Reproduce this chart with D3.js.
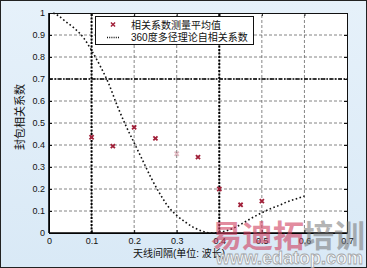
<!DOCTYPE html>
<html>
<head>
<meta charset="utf-8">
<script src="https://cdnjs.cloudflare.com/ajax/libs/d3/7.8.5/d3.min.js"></script>
<style>
  body { margin: 0; padding: 0; background: #fff; }
  svg { display: block; }
  text { font-family: Arial, "Liberation Sans", "Noto Sans CJK SC", sans-serif; }
</style>
</head>
<body>
<div id="chart"></div>
<script>
// Data
var xTicks = [0, 0.1, 0.2, 0.3, 0.4, 0.5, 0.6, 0.7];
var yTicks = [0, 0.1, 0.2, 0.3, 0.4, 0.5, 0.6, 0.7, 0.8, 0.9, 1];

// measured mean correlation (red crosses)
var measSpacing = [0.1, 0.15, 0.2, 0.25, 0.3, 0.35, 0.4, 0.45, 0.5];
var measValue   = [0.435, 0.395, 0.48, 0.43, 0.36, 0.345, 0.2, 0.128, 0.145];

// 360 degree multipath theory curve (dotted)
var theorySpacing = [0.01, 0.02, 0.04, 0.06, 0.08, 0.10, 0.12, 0.14, 0.16, 0.18,
                     0.20, 0.22, 0.24, 0.26, 0.28, 0.30, 0.32, 0.34, 0.36, 0.38,
                     0.40, 0.42, 0.44, 0.46, 0.48, 0.50, 0.52, 0.54, 0.56, 0.58, 0.60];
var theoryValue   = [1.0, 0.99, 0.96, 0.93, 0.89, 0.83, 0.76, 0.68, 0.58, 0.49,
                     0.41, 0.33, 0.25, 0.18, 0.12, 0.08, 0.05, 0.025, 0.008, 0.0,
                     0.003, 0.012, 0.028, 0.05, 0.072, 0.092, 0.11, 0.125, 0.142, 0.155, 0.168];

var refX = [0.1, 0.4];   // thick dotted verticals
var refY = [0.7];        // dash-dot horizontal

var legendLabels = ['相关系数测量平均值', '360度多径理论自相关系数'];
var xTitle = '天线间隔(单位: 波长)';
var yTitle = '封包相关系数';

var width = 367,
    height = 268;

var svg = d3.select('#chart')
  .append('svg')
    .attr('width', width)
    .attr('height', height);

// background panel
var bg = svg.append('defs').append('linearGradient')
    .attr('id', 'bg').attr('x1', 0).attr('y1', 0).attr('x2', 0).attr('y2', 1);
bg.append('stop').attr('offset', '0%').attr('stop-color', '#e6f1fa');
bg.append('stop').attr('offset', '100%').attr('stop-color', '#d9e9f6');

svg.append('rect')
  .attr('x', 0.5).attr('y', 0.5)
  .attr('width', width - 1).attr('height', height - 1)
  .attr('fill', 'url(#bg)')
  .attr('stroke', '#222');

var x = d3.scaleLinear().domain([0, 0.7]).range([49, 347]);
var y = d3.scaleLinear().domain([0, 1]).range([233, 13]);

// plot area
svg.append('rect')
  .attr('x', x(0)).attr('y', y(1))
  .attr('width', x(0.7) - x(0)).attr('height', y(0) - y(1))
  .attr('fill', '#fff');

// grid
svg.append('g').selectAll('line')
    .data(xTicks.slice(1, -1))
  .enter().append('line')
    .attr('x1', function(d) { return x(d); })
    .attr('x2', function(d) { return x(d); })
    .attr('y1', y(0)).attr('y2', y(1))
    .attr('stroke', '#666').attr('stroke-width', 0.8)
    .attr('stroke-dasharray', '3,2');

svg.append('g').selectAll('line')
    .data(yTicks.slice(1, -1))
  .enter().append('line')
    .attr('x1', x(0)).attr('x2', x(0.7))
    .attr('y1', function(d) { return y(d); })
    .attr('y2', function(d) { return y(d); })
    .attr('stroke', '#666').attr('stroke-width', 0.8)
    .attr('stroke-dasharray', '3,2');

// reference lines
svg.append('g').selectAll('line')
    .data(refX)
  .enter().append('line')
    .attr('x1', function(d) { return x(d); })
    .attr('x2', function(d) { return x(d); })
    .attr('y1', y(0)).attr('y2', y(1))
    .attr('stroke', '#000').attr('stroke-width', 2)
    .attr('stroke-dasharray', '2,1.5');

svg.append('g').selectAll('line')
    .data(refY)
  .enter().append('line')
    .attr('x1', x(0)).attr('x2', x(0.7))
    .attr('y1', function(d) { return y(d); })
    .attr('y2', function(d) { return y(d); })
    .attr('stroke', '#000').attr('stroke-width', 1.6)
    .attr('stroke-dasharray', '4,1.5,1.5,1.5');

// axes with inward ticks
function styleAxis(g) {
  g.select('.domain').attr('stroke', '#111');
  g.selectAll('.tick line').attr('stroke', '#111');
  g.selectAll('.tick text').attr('fill', '#111').style('font-size', '9px');
}

svg.append('g')
  .attr('transform', 'translate(0,' + y(0) + ')')
  .call(d3.axisBottom(x).tickValues(xTicks).tickFormat(d3.format('')).tickSizeInner(-3).tickSizeOuter(0).tickPadding(5))
  .call(styleAxis);

svg.append('g')
  .attr('transform', 'translate(' + x(0) + ',0)')
  .call(d3.axisLeft(y).tickValues(yTicks).tickFormat(d3.format('')).tickSizeInner(-3).tickSizeOuter(0).tickPadding(4))
  .call(styleAxis);

svg.append('g')
  .attr('transform', 'translate(0,' + y(1) + ')')
  .call(d3.axisTop(x).tickValues(xTicks).tickFormat('').tickSizeInner(-3).tickSizeOuter(0))
  .call(styleAxis);

svg.append('g')
  .attr('transform', 'translate(' + x(0.7) + ',0)')
  .call(d3.axisRight(y).tickValues(yTicks).tickFormat('').tickSizeInner(-3).tickSizeOuter(0))
  .call(styleAxis);

// thicker left and bottom axis like the picture
svg.append('line')
  .attr('x1', x(0)).attr('x2', x(0))
  .attr('y1', y(0)).attr('y2', y(1))
  .attr('stroke', '#000').attr('stroke-width', 1.6);
svg.append('line')
  .attr('x1', x(0)).attr('x2', x(0.7))
  .attr('y1', y(0)).attr('y2', y(0))
  .attr('stroke', '#000').attr('stroke-width', 1.6);

// theory curve
var theory = theorySpacing.map(function(d, i) { return [d, theoryValue[i]]; });
svg.append('path')
  .datum(theory)
  .attr('fill', 'none')
  .attr('stroke', '#111')
  .attr('stroke-width', 1.6)
  .attr('stroke-dasharray', '1.6,2.4')
  .attr('d', d3.line()
    .x(function(d) { return x(d[0]); })
    .y(function(d) { return y(d[1]); })
    .curve(d3.curveMonotoneX));

// measured crosses
var cross = d3.symbol().type(d3.symbolTimes).size(13);
svg.append('g').selectAll('path')
    .data(measSpacing)
  .enter().append('path')
    .attr('transform', function(d, i) { return 'translate(' + x(d) + ',' + y(measValue[i]) + ')'; })
    .attr('d', cross)
    .attr('fill', 'none')
    .attr('stroke', '#a01f38')
    .attr('stroke-width', 1.8)
    .attr('opacity', function(d) { return d === 0.3 ? 0.3 : 1; });

// legend
var lg = svg.append('g');
lg.append('rect')
  .attr('x', 95.5).attr('y', 16.5)
  .attr('width', 158).attr('height', 28)
  .attr('fill', '#fff').attr('stroke', '#111');
lg.append('path')
  .attr('transform', 'translate(113,24.5)')
  .attr('d', cross)
  .attr('fill', 'none')
  .attr('stroke', '#a01f38')
  .attr('stroke-width', 1.4);
lg.append('line')
  .attr('x1', 107).attr('x2', 119)
  .attr('y1', 37.5).attr('y2', 37.5)
  .attr('stroke', '#111').attr('stroke-width', 1.3)
  .attr('stroke-dasharray', '1,1.2');
lg.selectAll('text')
    .data(legendLabels)
  .enter().append('text')
    .attr('x', 131)
    .attr('y', function(d, i) { return 28.5 + i * 12.5; })
    .style('font-size', '10px')
    .attr('fill', '#111')
    .text(function(d) { return d; });

// axis titles
svg.append('text')
  .attr('x', 179).attr('y', 257)
  .attr('text-anchor', 'middle')
  .style('font-size', '10px')
  .attr('fill', '#111')
  .text(xTitle);

svg.append('text')
  .attr('transform', 'translate(24,117)rotate(-90)')
  .attr('text-anchor', 'middle')
  .style('font-size', '11px')
  .attr('fill', '#111')
  .text(yTitle);

// watermark
svg.append('text')
  .attr('x', 211).attr('y', 247)
  .style('font-size', '31px').style('font-weight', 'bold')
  .style('font-family', '"Noto Sans CJK SC", sans-serif')
  .attr('fill', '#d04060').attr('opacity', 0.6)
  .text('易迪拓');
svg.append('text')
  .attr('x', 303).attr('y', 247)
  .style('font-size', '31px').style('font-weight', 'bold')
  .style('font-family', '"Noto Sans CJK SC", sans-serif')
  .attr('fill', '#777').attr('opacity', 0.55)
  .text('培训');
svg.append('text')
  .attr('x', 363).attr('y', 264)
  .attr('text-anchor', 'end')
  .style('font-size', '18px').style('font-weight', 'bold')
  .attr('fill', '#fff').attr('stroke', '#999').attr('stroke-width', 0.8)
  .attr('opacity', 0.85)
  .text('www.edatop.com');
</script>
</body>
</html>
